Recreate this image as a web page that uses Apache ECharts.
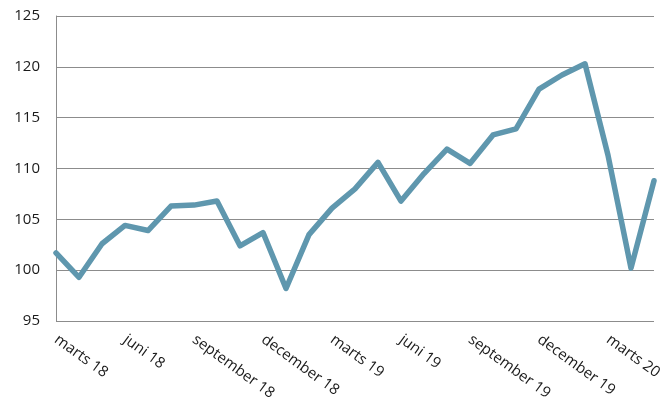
<!DOCTYPE html>
<html>
<head>
<meta charset="utf-8">
<script src="https://cdn.jsdelivr.net/npm/echarts@6/dist/echarts.min.js"></script>
<style>html,body{margin:0;padding:0;background:#fff}#c{width:672px;height:403px}</style>
</head>
<body>
<div id="c"></div>
<script>
const categories = [
  'marts 18','april 18','maj 18','juni 18','juli 18','august 18','september 18','oktober 18','november 18','december 18',
  'januar 19','februar 19','marts 19','april 19','maj 19','juni 19','juli 19','august 19','september 19','oktober 19','november 19','december 19',
  'januar 20','februar 20','marts 20','april 20','maj 20'
];
const values = [
  101.7, 99.3, 102.6, 104.4, 103.9, 106.3, 106.4, 106.8, 102.4, 103.7,
  98.2, 103.5, 106.1, 108.0, 110.6, 106.8, 109.5, 111.9, 110.5, 113.3, 113.9, 117.8,
  119.2, 120.3, 111.3, 100.2, 108.8
];
const yMin = 95, yMax = 125, yStep = 5;

const chart = echarts.init(document.getElementById('c'), null, {renderer: 'canvas'});
chart.setOption({
  animation: false,
  grid: {left: 56, right: 18, top: 16, bottom: 82, containLabel: false},
  xAxis: {
    type: 'category',
    data: categories,
    boundaryGap: false,
    axisLine: {show: false},
    axisTick: {show: false},
    splitLine: {show: false},
    axisLabel: {
      interval: 2,
      rotate: -36,
      margin: 17,
      color: '#1a1a1a',
      fontFamily: 'Open Sans',
      fontSize: 15
    }
  },
  yAxis: {
    type: 'value',
    min: yMin, max: yMax, interval: yStep,
    axisLine: {show: true, lineStyle: {color: '#8c8c8c', width: 1}},
    axisTick: {show: false},
    splitLine: {show: true, lineStyle: {color: '#8c8c8c', width: 1}},
    axisLabel: {
      margin: 16,
      color: '#1a1a1a',
      fontFamily: 'Open Sans',
      fontSize: 15
    }
  },
  series: [{
    type: 'line',
    data: values,
    symbol: 'none',
    lineStyle: {color: '#5f97ae', width: 5.5, join: 'round', cap: 'round'}
  }]
});
</script>
</body>
</html>
